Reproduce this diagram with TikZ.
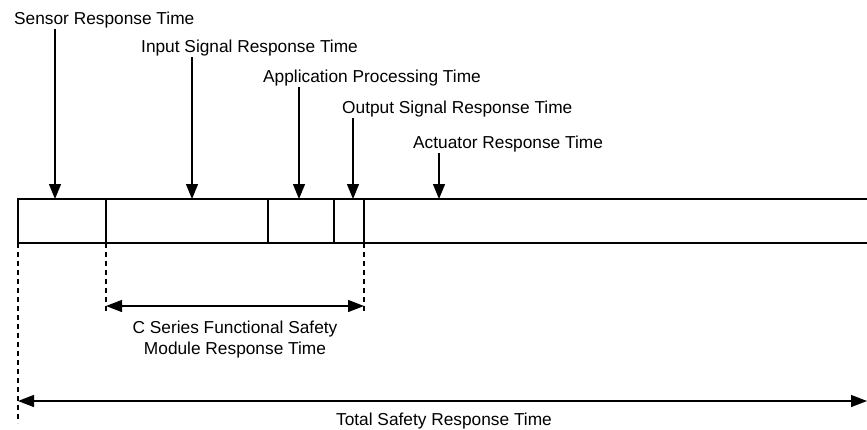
\documentclass[tikz,border=0pt]{standalone}
\usepackage{fontspec}
\setmainfont{Liberation Sans}
\usetikzlibrary{arrows.meta}

\begin{document}
\begin{tikzpicture}[x=1pt, y=-1pt,
  lbl/.style={font=\fontsize{17.3}{21}\selectfont, inner sep=1.5pt, anchor=base west},
  pointer/.style={line width=1.3pt, -{Triangle[length=15pt,width=12pt]}},
  span/.style={line width=1.3pt, {Triangle[length=16pt,width=12pt]}-{Triangle[length=16pt,width=12pt]}},
  guide/.style={line width=1.1pt, dash pattern=on 5pt off 4pt}]
\useasboundingbox (0,0) rectangle (867,429);

% the time bar
\draw [line width=1.3pt] (867,199) -- (18,199) -- (18,243) -- (867,243);
\foreach \x in {106, 268, 334, 364}
  \draw [line width=1.3pt] (\x,199) -- (\x,243);

% where the pointers hit the bar
\coordinate (s1) at (55,199);
\coordinate (s2) at (192,199);
\coordinate (s3) at (299,199);
\coordinate (s4) at (353,199);
\coordinate (s5) at (439,199);

\node [lbl] (sensor) at (12.5,24) {Sensor Response Time};
\node [lbl] (input) at (139.5,52) {Input Signal Response Time};
\node [lbl] (appl) at (261.5,82) {Application Processing Time};
\node [lbl] (output) at (340.5,113) {Output Signal Response Time};
\node [lbl] (actuator) at (411.5,148) {Actuator Response Time};

\draw [pointer] (sensor.south -| s1) -- (s1);
\draw [pointer] (input.south -| s2) -- (s2);
\draw [pointer] (appl.south -| s3) -- (s3);
\draw [pointer] (output.south -| s4) -- (s4);
\draw [pointer] (actuator.south -| s5) -- (s5);

% dashed guides
\coordinate (g0) at (18,243);
\coordinate (g1) at (106,243);
\coordinate (g2) at (364,243);
\coordinate (e0) at (18,423);
\coordinate (e1) at (106,312);
\coordinate (e2) at (364,312);
\draw [guide] (g0) -- (e0);
\draw [guide] (g1) -- (e1);
\draw [guide] (g2) -- (e2);

% spans
\coordinate (m1) at (106,306);
\coordinate (m2) at (364,306);
\coordinate (t1) at (18,401);
\coordinate (t2) at (867,401);
\draw [span] (m1) -- (m2);
\draw [span] (t1) -- (t2);

\node [lbl, anchor=north, align=center] (module) at (235,319.5)
  {C Series Functional Safety\\Module Response Time};
\node [lbl, anchor=base] (total) at (444,425) {Total Safety Response Time};
\end{tikzpicture}
\end{document}
